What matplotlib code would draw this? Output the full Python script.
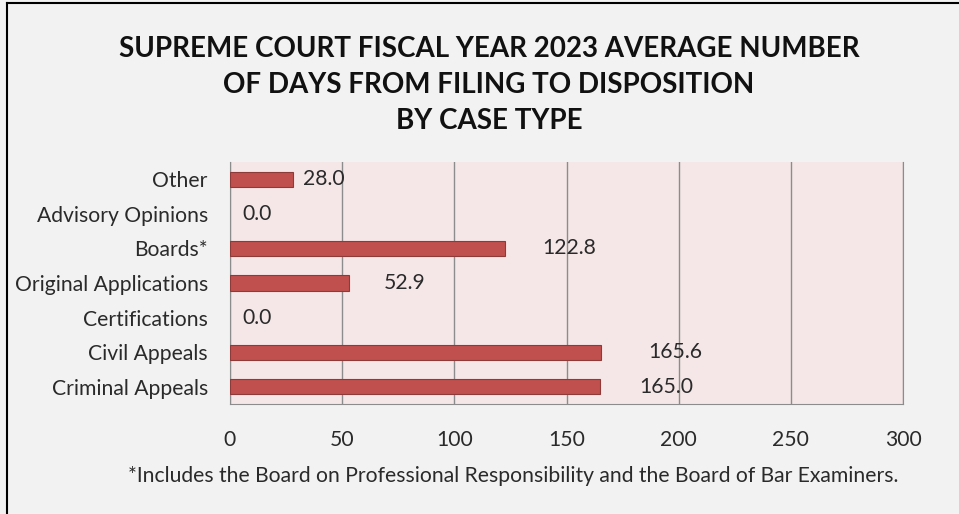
import matplotlib
matplotlib.use("Agg")
import matplotlib.pyplot as plt
from matplotlib.lines import Line2D

categories = ["Criminal Appeals", "Civil Appeals", "Certifications",
              "Original Applications", "Boards*", "Advisory Opinions", "Other"]
values = [165.0, 165.6, 0.0, 52.9, 122.8, 0.0, 28.0]
labels = ["165.0", "165.6", "0.0", "52.9", "122.8", "0.0", "28.0"]
xticks = [0, 50, 100, 150, 200, 250, 300]
title = ("SUPREME COURT FISCAL YEAR 2023 AVERAGE NUMBER\n"
         "OF DAYS FROM FILING TO DISPOSITION\nBY CASE TYPE")
footnote = "*Includes the Board on Professional Responsibility and the Board of Bar Examiners."

# label offsets (pixels) mimicking the reference placement
label_offsets = [39, 47, 12, 35, 37, 12, 10]

W, H = 959, 514
fig = plt.figure(figsize=(W / 100, H / 100), dpi=100)
fig.patch.set_facecolor("#f2f2f2")

body = ["Lato", "DejaVu Sans"]
head = ["Lato", "DejaVu Sans"]
fs = 15.2
tc = "#2a2a2a"

ax = fig.add_axes([230 / W, (H - 404) / H, (903 - 230) / W, (404 - 162) / H])
ax.set_facecolor("#f5e7e7")
ypos = list(range(len(categories)))
lws = [0.8 if v > 0 else 0 for v in values]
ax.barh(ypos, values, height=0.44, color="#c0504d", edgecolor="#8e3a38", linewidth=lws, zorder=3)
ax.set_xlim(0, 300)
ax.set_ylim(-0.5, len(categories) - 0.5)
ax.set_xticks(xticks)
ax.set_xticklabels([str(t) for t in xticks], family=body, fontsize=fs, color=tc)
ax.set_yticks(ypos)
ax.set_yticklabels(categories, family=body, fontsize=fs, color=tc)
ax.tick_params(axis="both", length=0)
ax.tick_params(axis="x", pad=19)
ax.tick_params(axis="y", pad=16)
ax.xaxis.grid(True, color="#8c8c8c", linewidth=1.0, zorder=1)
ax.spines["top"].set_visible(False)
for s in ["left", "bottom", "right"]:
    ax.spines[s].set_color("#8c8c8c")

for y, v, lab, off in zip(ypos, values, labels, label_offsets):
    ax.annotate(lab, xy=(v, y), xytext=(off * 0.72, 0), textcoords="offset points",
                ha="left", va="center", family=body, fontsize=fs, color=tc, zorder=4)

fig.text(489 / W, 1 - 85 / H, title, ha="center", va="center", family=head,
         fontweight="bold", fontsize=20, linespacing=1.48, color="#111111")
fig.text(513 / W, 1 - 476 / H, footnote, ha="center", va="center", family=body,
         fontsize=fs, color=tc)

# outer frame (left and top edges visible)
fig.add_artist(Line2D([6.5 / W, 6.5 / W], [0, 1 - 3 / H], transform=fig.transFigure, color="black", linewidth=1.5))
fig.add_artist(Line2D([6.5 / W, 1], [1 - 3 / H, 1 - 3 / H], transform=fig.transFigure, color="black", linewidth=1.5))

fig.savefig("out.png", dpi=100, facecolor=fig.get_facecolor())
